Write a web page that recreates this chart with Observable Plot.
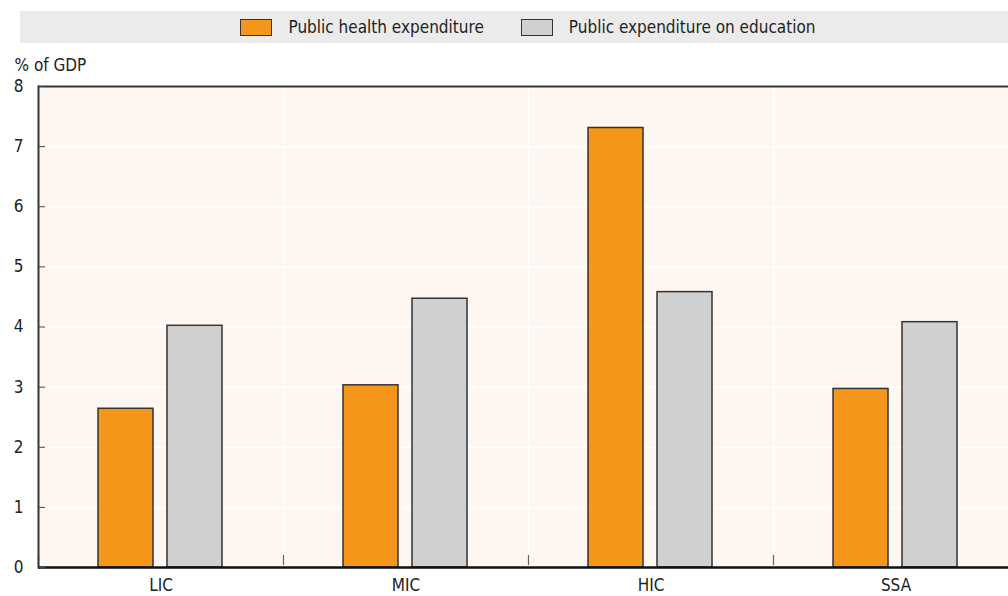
<!DOCTYPE html>
<html>
<head>
<meta charset="utf-8">
<script src="https://cdn.jsdelivr.net/npm/d3@7"></script>
<script src="https://cdn.jsdelivr.net/npm/@observablehq/plot@0.6"></script>
<style>
  body { margin: 0; background: #ffffff; font-family: "DejaVu Sans Condensed", "Liberation Sans Narrow", sans-serif; }
  #legend {
    margin: 11px 0 0 20px; width: 960px; height: 32px; padding-left: 28px;
    background: #ebebeb; display: flex; align-items: center; justify-content: center;
    font-size: 17px; color: #222;
  }
  .item { display: flex; align-items: center; }
  .sw { width: 30px; height: 15px; border: 1px solid #333; margin-right: 16px; }
  .gap { width: 37px; }
  #chart { margin-top: 7px; }
</style>
</head>
<body>
<div id="legend"></div>
<div id="chart"></div>
<script>
const regions = ["LIC", "MIC", "HIC", "SSA"];
const seriesNames = ["Public health expenditure", "Public expenditure on education"];
const healthValues = [2.64, 3.03, 7.31, 2.97];
const educationValues = [4.02, 4.47, 4.58, 4.08];
const yTicks = [0, 1, 2, 3, 4, 5, 6, 7, 8];
const colors = ["#f39619", "#d0d0d0"];
const yLabel = "% of GDP";

const data = [];
regions.forEach((r, i) => {
  data.push({region: r, series: seriesNames[0], value: healthValues[i]});
  data.push({region: r, series: seriesNames[1], value: educationValues[i]});
});

// legend
const legend = document.getElementById("legend");
seriesNames.forEach((s, i) => {
  if (i > 0) { const g = document.createElement("div"); g.className = "gap"; legend.appendChild(g); }
  const it = document.createElement("div"); it.className = "item";
  const sw = document.createElement("div"); sw.className = "sw"; sw.style.background = colors[i];
  const tx = document.createElement("span"); tx.textContent = s;
  it.appendChild(sw); it.appendChild(tx); legend.appendChild(it);
});

const H = 546, mTop = 36, mBottom = 29;
const plotH = H - mTop - mBottom;
const FONT = "'DejaVu Sans Condensed', 'Liberation Sans Narrow', sans-serif";

const chart = Plot.plot({
  width: 1008,
  height: H,
  marginTop: mTop,
  marginBottom: mBottom,
  marginLeft: 37,
  marginRight: -11,
  style: {fontFamily: FONT, fontSize: "17px", color: "#222", background: "transparent"},
  fx: {domain: regions, padding: 0, label: null},
  x: {domain: seriesNames, paddingInner: 0.2, paddingOuter: 0.855, axis: null},
  y: {domain: [0, 8], ticks: yTicks, label: null},
  color: {domain: seriesNames, range: colors},
  marks: [
    Plot.frame({fill: "#fef6f0", stroke: null}),
    Plot.gridY(yTicks, {stroke: "#ffffff", strokeOpacity: 1, strokeWidth: 1.5}),
    Plot.frame({anchor: "left", stroke: "#ffffff", strokeWidth: 1.5}),
    Plot.frame({anchor: "left", stroke: "#666", strokeWidth: 1.2, insetTop: plotH - 12, insetBottom: 3}),
    Plot.barY(data, {fx: "region", x: "series", y: "value", fill: "series", stroke: "#333", strokeWidth: 1.5}),
    Plot.ruleY([8], {stroke: "#333", strokeWidth: 2}),
    Plot.frame({anchor: "left", stroke: "#333", strokeWidth: 2, facetAnchor: "left"}),
    Plot.ruleY([0], {stroke: "#111", strokeWidth: 2.5}),
    Plot.axisY(yTicks, {tickSize: -7, tickPadding: 22, tickFormat: "d", stroke: "#444", fill: "#222", label: null, fontSize: 17}),
    Plot.axisFx({anchor: "bottom", tickSize: 0, tickPadding: 11, label: null, fill: "#222", fontSize: 17}),
    Plot.text([yLabel], {frameAnchor: "top-left", dx: -24, dy: -28, textAnchor: "start", fill: "#222", fontSize: 17, facetAnchor: "left"})
  ]
});
document.getElementById("chart").appendChild(chart);
</script>
</body>
</html>
